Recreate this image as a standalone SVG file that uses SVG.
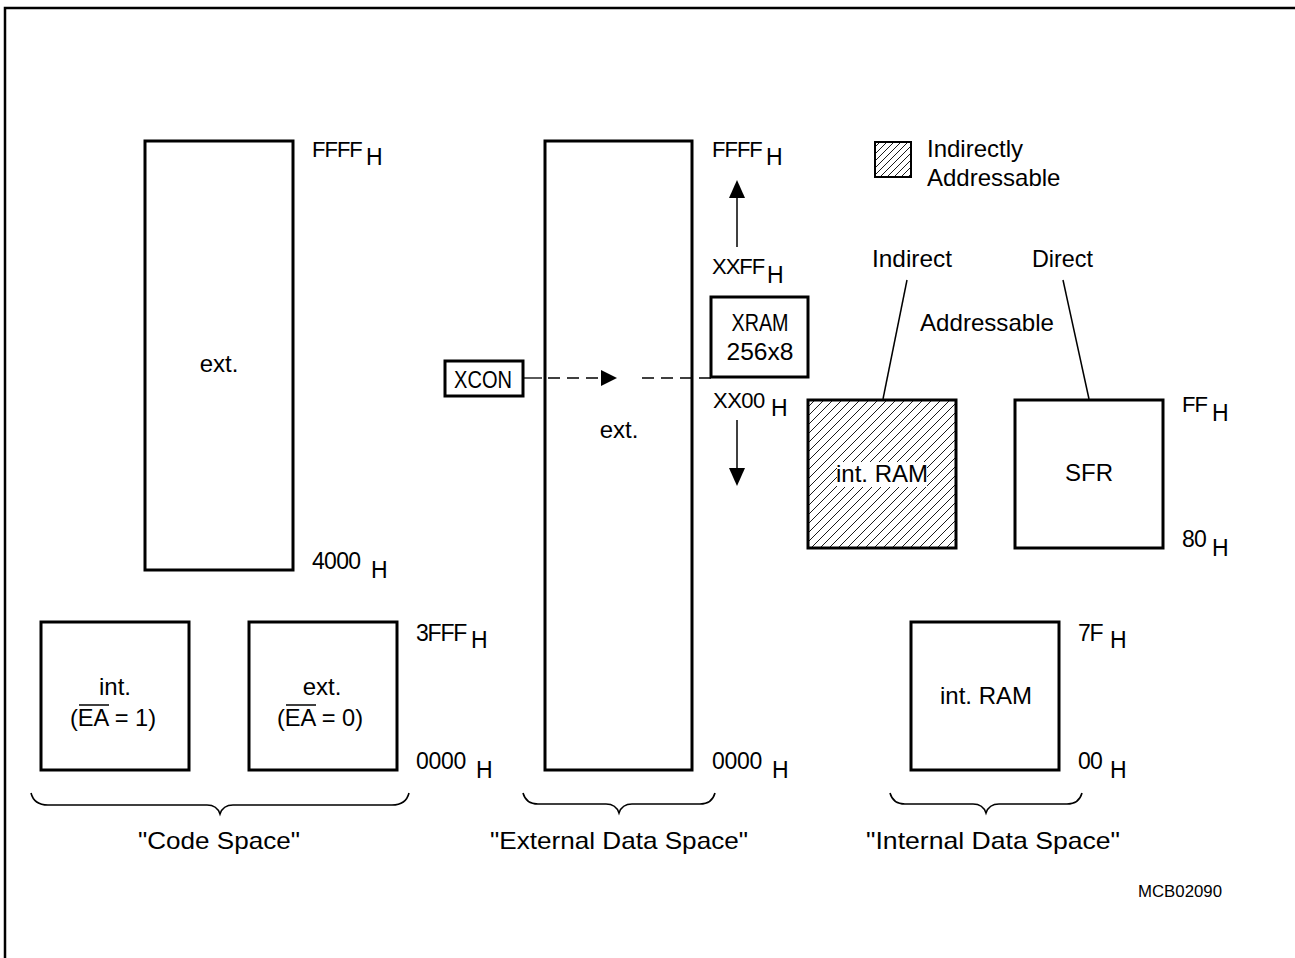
<svg xmlns="http://www.w3.org/2000/svg" width="1295" height="958" viewBox="0 0 1295 958">
<style>
text{font-family:"Liberation Sans",Arial,sans-serif;font-size:24px;fill:#000}
.c{text-anchor:middle}
.hx{font-size:23px}
.hf{font-size:22px}
.hx tspan,.hf tspan{letter-spacing:0;font-size:23px}
.box{fill:#fff;stroke:#000;stroke-width:3}
.thin{fill:none;stroke:#000;stroke-width:1.5}
.brace{fill:none;stroke:#000;stroke-width:1.6}
.dash{fill:none;stroke:#000;stroke-width:1.3;stroke-dasharray:12 7}
.ov{stroke:#000;stroke-width:1.5}
.sm{font-size:17px}
</style>
<defs>
<pattern id="hatch" patternUnits="userSpaceOnUse" width="9" height="9">
<path d="M-2,2 L2,-2 M0,9 L9,0 M7,11 L11,7" stroke="#000" stroke-width="0.9"/>
</pattern>
<pattern id="hatch2" patternUnits="userSpaceOnUse" width="7" height="7">
<path d="M-2,2 L2,-2 M0,7 L7,0 M5,9 L9,5" stroke="#000" stroke-width="0.9"/>
</pattern>
</defs>
<rect width="1295" height="958" fill="#fff"/>
<g id="frame"><path d="M5,958 V8 H1295" fill="none" stroke="#000" stroke-width="2.5"/></g>

<g id="code-ext"><rect class="box" x="145" y="141" width="148" height="429"/><text class="c" x="219" y="372">ext.</text></g>
<g id="code-int"><rect class="box" x="41" y="622" width="148" height="148"/><text class="c" x="115" y="695">int.</text><text class="c" x="113" y="726" textLength="86" lengthAdjust="spacingAndGlyphs">(EA = 1)</text><line class="ov" x1="79" y1="705" x2="109" y2="705"/></g>
<g id="code-ext0"><rect class="box" x="249" y="622" width="148" height="148"/><text class="c" x="322" y="695">ext.</text><text class="c" x="320" y="726" textLength="86" lengthAdjust="spacingAndGlyphs">(EA = 0)</text><line class="ov" x1="286" y1="705" x2="316" y2="705"/></g>

<g id="ext-data"><rect class="box" x="545" y="141" width="147" height="629"/><text class="c" x="619" y="438">ext.</text></g>
<g id="xcon"><rect class="box" x="445" y="361" width="78" height="35"/><text class="c" x="483" y="388" textLength="58" lengthAdjust="spacingAndGlyphs">XCON</text></g>
<g id="xram"><rect class="box" x="711" y="297" width="97" height="80"/><text class="c" x="760" y="331" textLength="57" lengthAdjust="spacingAndGlyphs">XRAM</text><text class="c" x="760" y="360" textLength="67" lengthAdjust="spacingAndGlyphs">256x8</text></g>

<g id="legend"><rect x="875" y="142" width="36" height="35" fill="url(#hatch2)" stroke="#000" stroke-width="2"/><text x="927" y="157">Indirectly</text><text x="927" y="186">Addressable</text></g>

<g id="int-ram-hi"><rect x="808" y="400" width="148" height="148" fill="url(#hatch)" stroke="#000" stroke-width="3"/><rect x="837" y="462" width="90" height="25" fill="#fff"/><text class="c" x="882" y="482">int. RAM</text></g>
<g id="sfr"><rect class="box" x="1015" y="400" width="148" height="148"/><text class="c" x="1089" y="481">SFR</text></g>
<g id="int-ram-lo"><rect class="box" x="911" y="622" width="148" height="148"/><text class="c" x="986" y="704">int. RAM</text></g>

<g id="labels">
<text x="872" y="267" textLength="80" lengthAdjust="spacingAndGlyphs">Indirect</text>
<text x="1032" y="267" textLength="61" lengthAdjust="spacingAndGlyphs">Direct</text>
<text x="920" y="331" textLength="134" lengthAdjust="spacingAndGlyphs">Addressable</text>

<text class="hf" x="312" y="157" letter-spacing="-1">FFFF<tspan x="366" y="165">H</tspan></text>
<text class="hx" x="312" y="569" letter-spacing="-0.7">4000<tspan x="371" y="578">H</tspan></text>
<text class="hx" x="416" y="641" letter-spacing="-1.2">3FFF<tspan x="471" y="648">H</tspan></text>
<text class="hx" x="416" y="769" letter-spacing="-0.3">0000<tspan x="476" y="778">H</tspan></text>
<text class="hf" x="712" y="157" letter-spacing="-1">FFFF<tspan x="766" y="165">H</tspan></text>
<text class="hf" x="712" y="274" letter-spacing="-1">XXFF<tspan x="767" y="283">H</tspan></text>
<text class="hf" x="713" y="408" letter-spacing="-0.5">XX00<tspan x="771" y="416">H</tspan></text>
<text class="hx" x="712" y="769" letter-spacing="-0.3">0000<tspan x="772" y="778">H</tspan></text>
<text class="hf" x="1182" y="412" letter-spacing="-1">FF<tspan x="1212" y="421">H</tspan></text>
<text class="hx" x="1182" y="547" letter-spacing="-0.7">80<tspan x="1212" y="556">H</tspan></text>
<text class="hx" x="1078" y="641" letter-spacing="-1.2">7F<tspan x="1110" y="648">H</tspan></text>
<text class="hx" x="1078" y="769" letter-spacing="-0.7">00<tspan x="1110" y="778">H</tspan></text>

<text class="c" x="219" y="849" textLength="162" lengthAdjust="spacingAndGlyphs">"Code  Space"</text>
<text class="c" x="619" y="849" textLength="258" lengthAdjust="spacingAndGlyphs">"External  Data  Space"</text>
<text class="c" x="993" y="849" textLength="254" lengthAdjust="spacingAndGlyphs">"Internal  Data  Space"</text>
<text class="sm" x="1138" y="897" textLength="84" lengthAdjust="spacingAndGlyphs">MCB02090</text>
</g>

<g id="connectors">
<line class="thin" x1="907" y1="280" x2="883" y2="399"/>
<line class="thin" x1="1063" y1="280" x2="1089" y2="399"/>
<line class="thin" x1="737" y1="196" x2="737" y2="247"/>
<path d="M737,180 L729,198 L745,198 Z" fill="#000"/>
<line class="thin" x1="737" y1="420" x2="737" y2="470"/>
<path d="M737,486 L729,468 L745,468 Z" fill="#000"/>
<line x1="523" y1="378" x2="542" y2="378" stroke="#000" stroke-width="1.3"/>
<line class="dash" x1="548" y1="378" x2="601" y2="378"/>
<path d="M617,378 L601,370 L601,386 Z" fill="#000"/>
<line class="dash" x1="642" y1="378" x2="711" y2="378"/>
<path class="brace" d="M31,793 Q34,805 48,805 L207,805 Q217,805 220,814 Q223,805 233,805 L392,805 Q406,805 409,793"/>
<path class="brace" d="M523,793 Q526,804 538,804 L606,804 Q616,804 619,813 Q622,804 632,804 L700,804 Q712,804 715,793"/>
<path class="brace" d="M890,793 Q893,804 905,804 L973,804 Q983,804 986,813 Q989,804 999,804 L1067,804 Q1079,804 1082,793"/>
</g>
</svg>
